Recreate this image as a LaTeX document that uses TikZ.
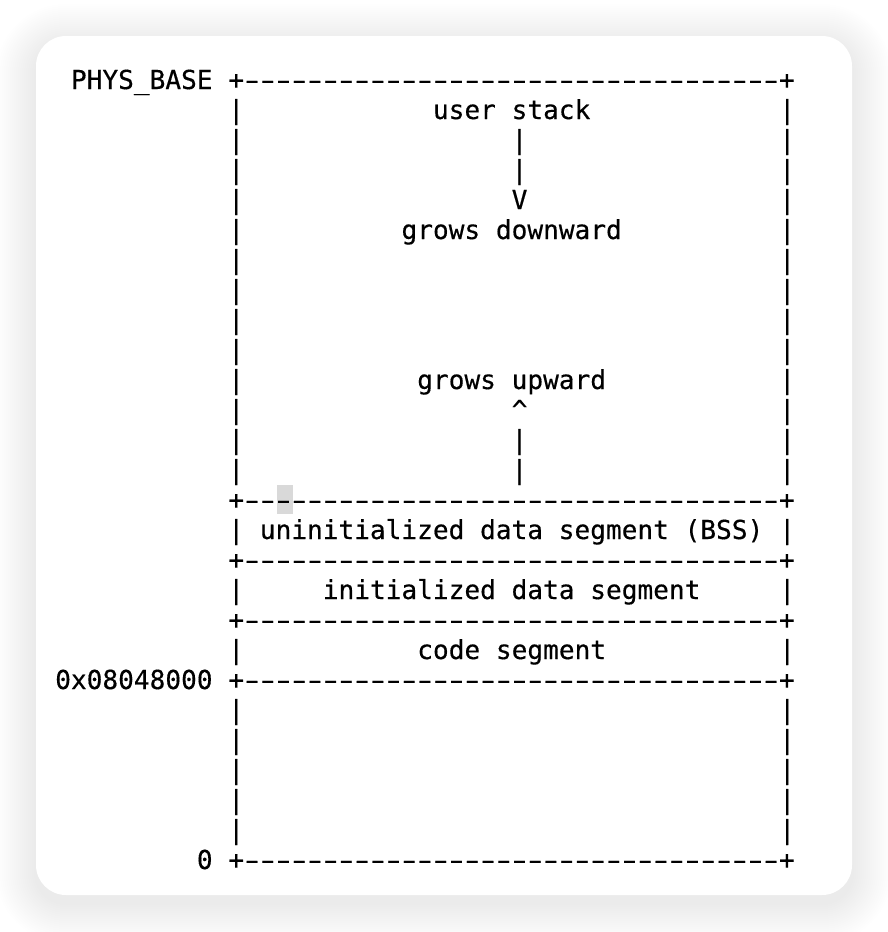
\documentclass[tikz,border=0pt]{standalone}
\usepackage{fontspec}
\newfontfamily\asciifont{DejaVu Sans Mono}[Ligatures=TeXOff,FakeBold=0.4]
\newcommand\dsh{\makebox[0.602em]{\scalebox{1.6}[1]{-}}}
\newcommand\border{+\foreach \i in {1,...,34}{\dsh}+}
\begin{document}
\begin{tikzpicture}[x=0.75pt,y=-0.75pt,
  ascii/.style={anchor=base west,inner sep=0pt,font=\asciifont\fontsize{19.6}{22.5}\selectfont}]
\useasboundingbox (0,0) rectangle (888,932);
\fill[white] (0,0) rectangle (888,932);
\foreach \s in {1,...,20} {
  \fill[black,opacity=0.0055,rounded corners={22.5pt+1.5pt*\s}] (36-2*\s,44-2*\s) rectangle (852+2*\s,903+2*\s);
}
\fill[white,rounded corners=22.5pt] (36,36) rectangle (852,895);
\fill[black!15] (277,485) rectangle (293,514);
\foreach \r/\nm in {0/top,14/bsstop,16/datatop,18/codetop,20/codebot,26/bottom} {
  \node[ascii] (\nm) at ({23.5+15.74*13},{89+30*\r}) {\border};
}
\foreach \r in {1,...,13,15,17,19,21,22,...,25} {
  \node[ascii] (l\r) at ({23.5+15.74*13},{89+30*\r}) {|};
  \node[ascii] (r\r) at ({23.5+15.74*48},{89+30*\r}) {|};
}
\node[ascii] (physbase) at ({23.5+15.74*3},89) {PHYS\_BASE};
\node[ascii] (codebase) at ({23.5+15.74*2},{89+30*20}) {0x08048000};
\node[ascii] (zero) at ({23.5+15.74*11},{89+30*26}) {0};
\node[ascii] (stack) at ({23.5+15.74*26},{89+30*1}) {user stack};
\foreach \r in {2,3,12,13} {
  \node[ascii] (bar\r) at ({23.5+15.74*31},{89+30*\r}) {|};
}
\node[ascii] (vee) at ({23.5+15.74*31},{89+30*4}) {V};
\node[ascii] (down) at ({23.5+15.74*24},{89+30*5}) {grows downward};
\node[ascii] (up) at ({23.5+15.74*25},{89+30*10}) {grows upward};
\node[ascii] (caret) at ({23.5+15.74*31},{89+30*11}) {\textasciicircum};
\node[ascii] (bss) at ({23.5+15.74*15},{89+30*15}) {uninitialized data segment (BSS)};
\node[ascii] (data) at ({23.5+15.74*19},{89+30*17}) {initialized data segment};
\node[ascii] (code) at ({23.5+15.74*25},{89+30*19}) {code segment};
\end{tikzpicture}
\end{document}
